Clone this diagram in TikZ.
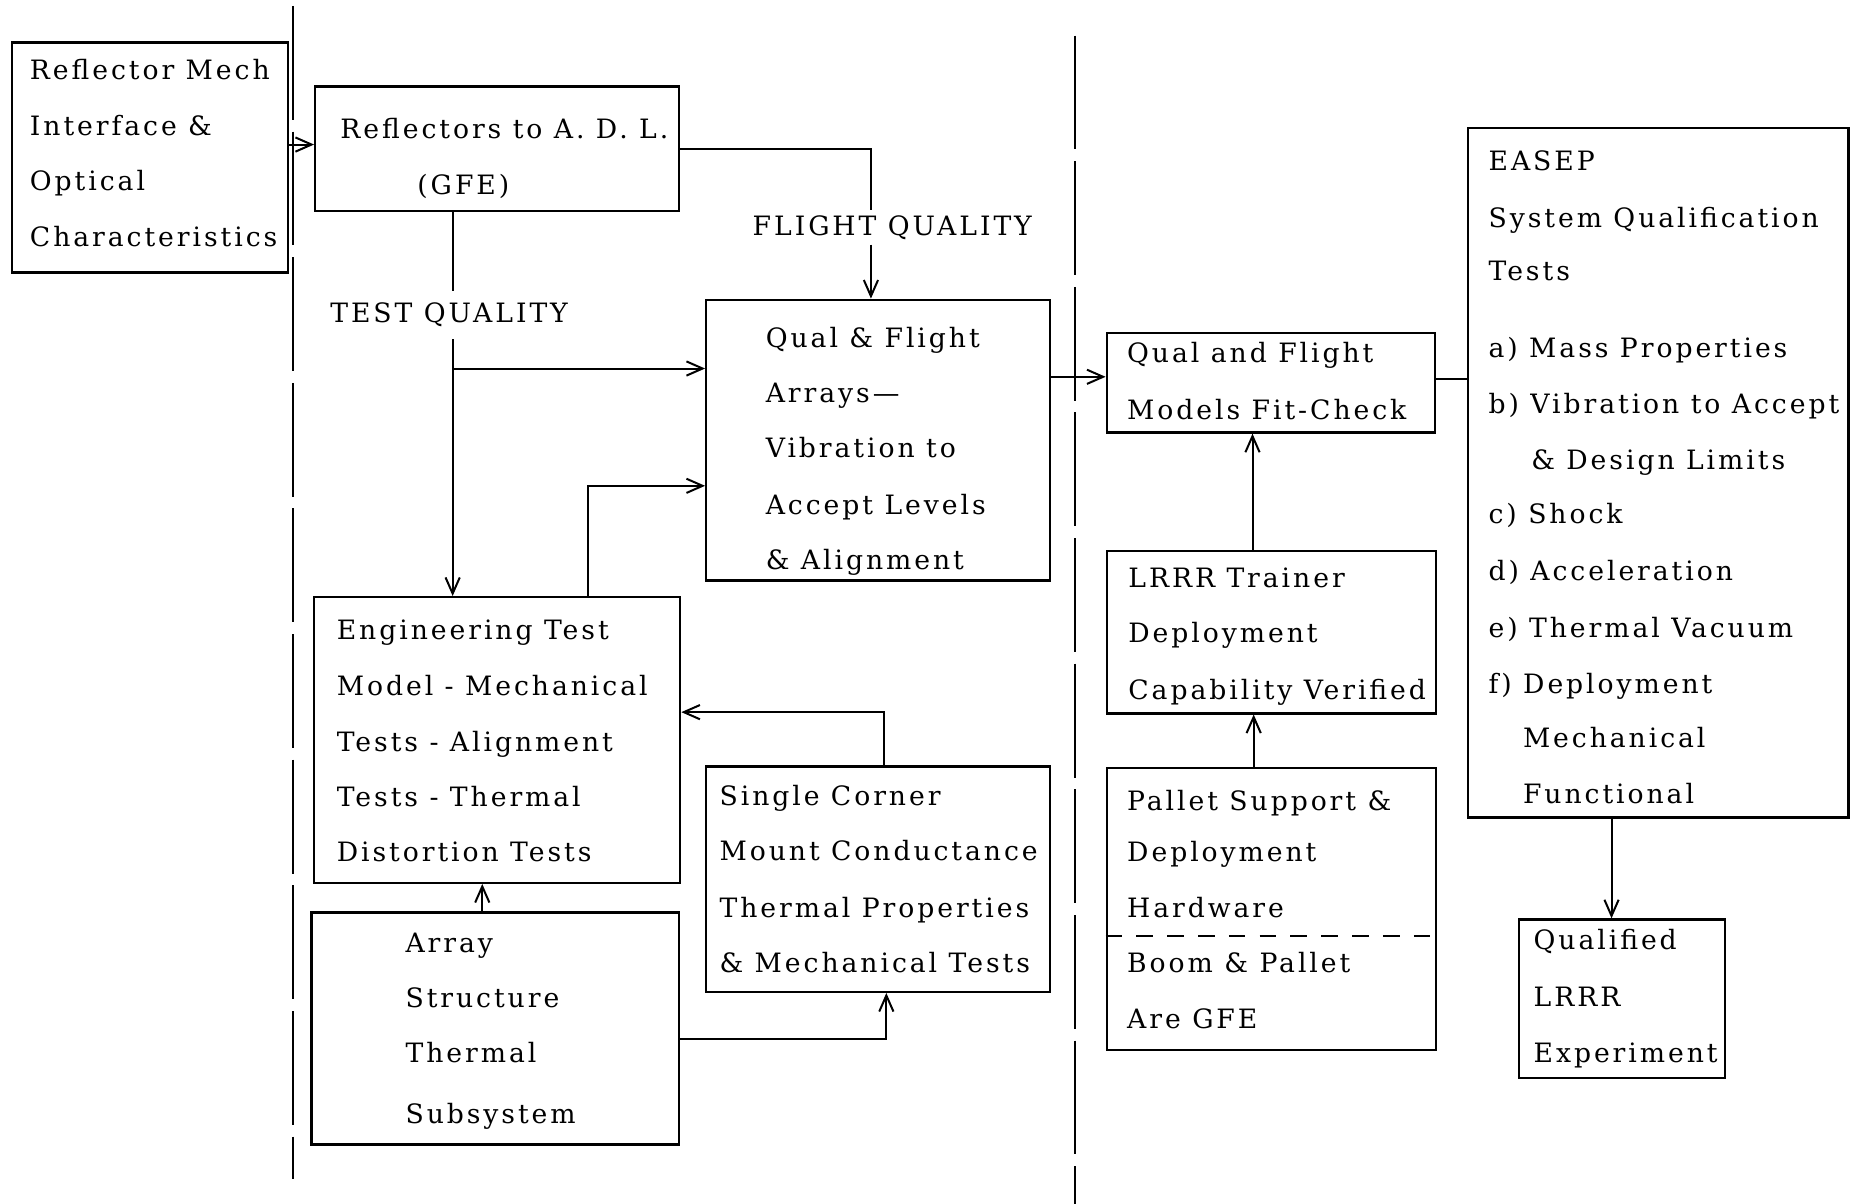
\documentclass[tikz,border=0pt]{standalone}
\usepackage{fontspec}
\setmainfont{DejaVu Serif}[LetterSpace=11]
\usetikzlibrary{arrows.meta,fit}
\begin{document}
\begin{tikzpicture}[x=0.025cm,y=-0.025cm,
  box/.style={draw, line width=1.4pt, inner sep=0pt},
  txt/.style={anchor=base west, inner sep=0pt, font=\fontsize{16}{18}\selectfont},
  lbl/.style={fill=white, inner xsep=1pt, font=\fontsize{16}{18}\selectfont},
  conn/.style={line width=1.2pt},
  arr/.style={conn, -{Straight Barb[length=0.34cm,width=0.3cm]}},
  divider/.style={line width=1.1pt, dash pattern=on 2.4cm off 0.25cm}]
\useasboundingbox (0,0) rectangle (1568,1016);

% dividers
\draw[divider] (247,5) -- (247,995);
\draw[divider] (907,30) -- (907,1016);

% boxes
\node[box, fit={(10,36) (243,230)}] (A) {};
\node[box, fit={(266,73) (573,178)}] (B) {};
\node[box, fit={(596,253) (886,490)}] (C) {};
\node[box, fit={(265,504) (574,745)}] (D) {};
\node[box, fit={(596,647) (886,837)}] (E) {};
\node[box, fit={(263,770) (573,966)}] (F) {};
\node[box, fit={(934,281) (1211,365)}] (G) {};
\node[box, fit={(934,465) (1212,602)}] (H) {};
\node[box, fit={(934,648) (1212,886)}] (I) {};
\node[box, fit={(1239,108) (1560,690)}] (J) {};
\node[box, fit={(1282,776) (1456,910)}] (K) {};

% texts
\foreach \y/\t [count=\i] in {60/Reflector Mech,107/Interface \&,154/Optical,201/Characteristics}
  \node[txt] (A-\i) at (25,{\y+7}) {\t};
\node[txt] (B-1) at (287,117) {Reflectors to A. D. L.};
\node[txt] (B-2) at (352,164) {(GFE)};
\foreach \y/\t [count=\i] in {286/Qual \& Flight,333/Arrays—,379/Vibration to,427/Accept Levels,474/\& Alignment}
  \node[txt] (C-\i) at (646,{\y+7}) {\t};
\foreach \y/\t [count=\i] in {533/Engineering Test,580/Model - Mechanical,627/Tests - Alignment,674/Tests - Thermal,720/Distortion Tests}
  \node[txt] (D-\i) at (284,{\y+7}) {\t};
\foreach \y/\t [count=\i] in {673/Single Corner,719/Mount Conductance,767/Thermal Properties,814/\& Mechanical Tests}
  \node[txt] (E-\i) at (607,{\y+7}) {\t};
\foreach \y/\t [count=\i] in {797/Array,843/Structure,890/Thermal,941/Subsystem}
  \node[txt] (F-\i) at (342,{\y+7}) {\t};
\foreach \y/\t [count=\i] in {299/Qual and Flight,347/Models Fit-Check}
  \node[txt] (G-\i) at (951,{\y+7}) {\t};
\foreach \y/\t [count=\i] in {489/LRRR Trainer,535/Deployment,583/Capability Verified}
  \node[txt] (H-\i) at (952,{\y+7}) {\t};
\foreach \y/\t [count=\i] in {677/Pallet Support \&,720/Deployment,767/Hardware,814/Boom \& Pallet,861/Are GFE}
  \node[txt] (I-\i) at (951,{\y+7}) {\t};
\foreach \x/\y/\t [count=\i] in {1256/137/EASEP,1256/185/System Qualification,1256/230/Tests,1256/295/a) Mass Properties,1256/342/b) Vibration to Accept,1292/389/\& Design Limits,1256/435/c) Shock,1256/483/d) Acceleration,1256/531/e) Thermal Vacuum,1256/578/f) Deployment,1285/624/Mechanical,1285/671/Functional}
  \node[txt] (J-\i) at (\x,{\y+7}) {\t};
\foreach \y/\t [count=\i] in {794/Qualified,842/LRRR,890/Experiment}
  \node[txt] (K-\i) at (1294,{\y+7}) {\t};

% bend coordinates
\coordinate (fqx) at (735,0);
\coordinate (tqx) at (382,0);
\coordinate (tqb) at (382,311);
\coordinate (p1) at (496,410);
\coordinate (p2) at (746,601);
\coordinate (p3) at (748,877);
\coordinate (p4) at (407,0);
\coordinate (p5) at (0,318);
\coordinate (p6) at (1057,0);
\coordinate (p7) at (1058,0);
\coordinate (p8) at (0,320);
\coordinate (p9) at (1360,0);
\coordinate (p10) at (0,790);

% labels
\node[lbl, inner ysep=0.1cm] (fq) at (753,192) {FLIGHT QUALITY};
\node[lbl, inner ysep=0.25cm] (tq) at (379,266) {TEST QUALITY};

% connectors
\draw[arr] (A.east |- 0,122) -- (B.west |- 0,122);
\draw[conn] (B.east) -| (fq.north -| fqx);
\draw[arr] (fq.south -| fqx) -- (C.north -| fqx);
\draw[conn] (B.south -| tqx) -- (tq.north -| tqx);
\draw[arr] (tq.south -| tqx) -- (D.north -| tqx);
\draw[arr] (tqb) -- (tqb -| C.west);
\draw[arr] (p1 |- D.north) -- (p1) -- (p1 -| C.west);
\draw[arr] (p2 |- E.north) -- (p2) -- (p2 -| D.east);
\draw[arr] (p3 -| F.east) -- (p3) -- (p3 |- E.south);
\draw[arr] (F.north -| p4) -- (D.south -| p4);
\draw[arr] (C.east |- p5) -- (G.west |- p5);
\draw[arr] (H.north -| p6) -- (G.south -| p6);
\draw[arr] (I.north -| p7) -- (H.south -| p7);
\draw[conn] (G.east |- p8) -- (J.west |- p8);
\draw[arr] (J.south -| p9) -- (K.north -| p9);
\draw[conn, dash pattern=on 0.35cm off 0.3cm] (I.west |- p10) -- (I.east |- p10);
\end{tikzpicture}
\end{document}
